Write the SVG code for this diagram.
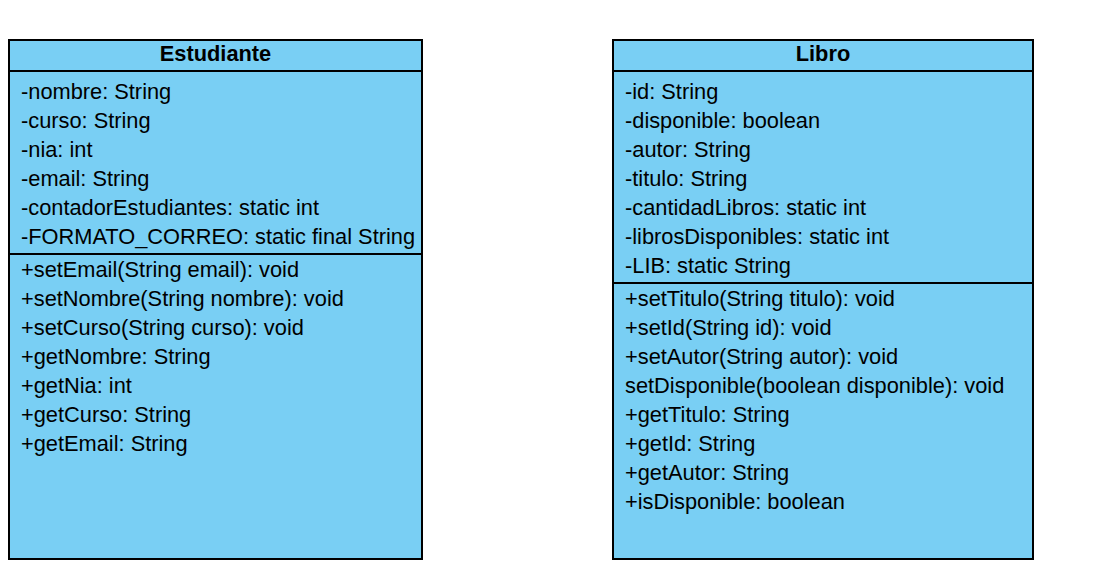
<svg xmlns="http://www.w3.org/2000/svg" width="1113" height="582" viewBox="0 0 1113 582">
<style>
.box{fill:#79cff4;stroke:#000;stroke-width:2}
.sep{stroke:#000;stroke-width:2}
.t{font-family:"Liberation Sans",Arial,sans-serif;font-size:21.8px;fill:#000}
.h{font-family:"Liberation Sans",Arial,sans-serif;font-size:21.8px;font-weight:bold;fill:#000;text-anchor:middle}
</style>
<rect width="1113" height="582" fill="#fff"/>
<g id="estudiante">
<rect class="box" x="9" y="40" width="413" height="519"/>
<line class="sep" x1="9" y1="71" x2="422" y2="71"/>
<line class="sep" x1="9" y1="254" x2="422" y2="254"/>
<text class="h" x="215.5" y="61">Estudiante</text>
<text class="t" x="21" y="99">-nombre: String</text>
<text class="t" x="21" y="128">-curso: String</text>
<text class="t" x="21" y="157">-nia: int</text>
<text class="t" x="21" y="186">-email: String</text>
<text class="t" x="21" y="215">-contadorEstudiantes: static int</text>
<text class="t" x="21" y="244">-FORMATO_CORREO: static final String</text>
<text class="t" x="21" y="277">+setEmail(String email): void</text>
<text class="t" x="21" y="306">+setNombre(String nombre): void</text>
<text class="t" x="21" y="335">+setCurso(String curso): void</text>
<text class="t" x="21" y="364">+getNombre: String</text>
<text class="t" x="21" y="393">+getNia: int</text>
<text class="t" x="21" y="422">+getCurso: String</text>
<text class="t" x="21" y="451">+getEmail: String</text>
</g>
<g id="libro">
<rect class="box" x="613" y="40" width="420" height="519"/>
<line class="sep" x1="613" y1="71" x2="1033" y2="71"/>
<line class="sep" x1="613" y1="283" x2="1033" y2="283"/>
<text class="h" x="823" y="61">Libro</text>
<text class="t" x="625" y="99">-id: String</text>
<text class="t" x="625" y="128">-disponible: boolean</text>
<text class="t" x="625" y="157">-autor: String</text>
<text class="t" x="625" y="186">-titulo: String</text>
<text class="t" x="625" y="215">-cantidadLibros: static int</text>
<text class="t" x="625" y="244">-librosDisponibles: static int</text>
<text class="t" x="625" y="273">-LIB: static String</text>
<text class="t" x="625" y="306">+setTitulo(String titulo): void</text>
<text class="t" x="625" y="335">+setId(String id): void</text>
<text class="t" x="625" y="364">+setAutor(String autor): void</text>
<text class="t" x="625" y="393">setDisponible(boolean disponible): void</text>
<text class="t" x="625" y="422">+getTitulo: String</text>
<text class="t" x="625" y="451">+getId: String</text>
<text class="t" x="625" y="480">+getAutor: String</text>
<text class="t" x="625" y="509">+isDisponible: boolean</text>
</g>
<g id="connectors"></g>
</svg>
